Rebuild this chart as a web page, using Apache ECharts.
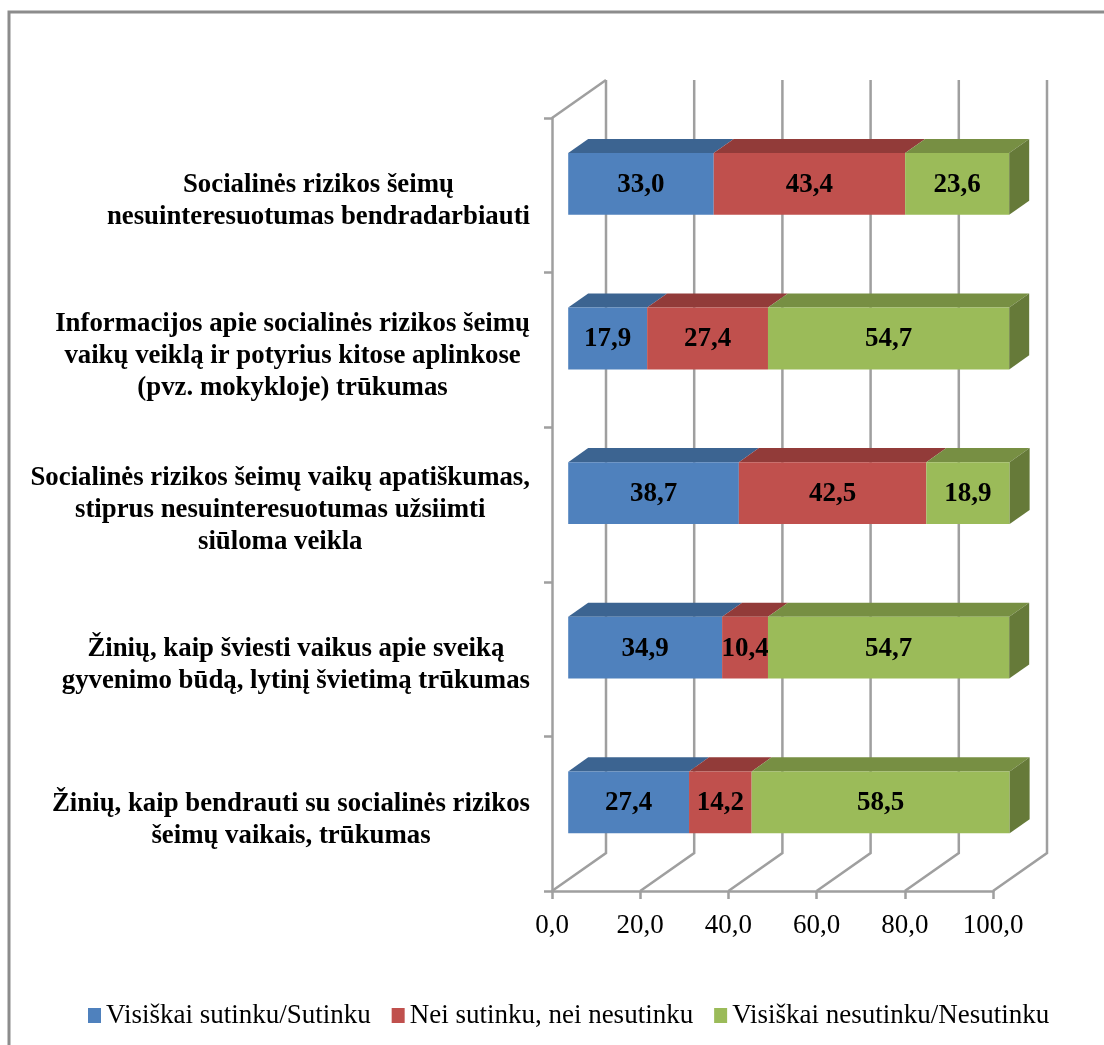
<!DOCTYPE html>
<html>
<head>
<meta charset="utf-8">
<script src="https://cdn.jsdelivr.net/npm/echarts@6/dist/echarts.min.js"></script>
<style>
  html, body { margin: 0; padding: 0; background: #fff; }
  #chart { width: 1104px; height: 1045px; }
</style>
</head>
<body>
<div id="chart"></div>
<script>
var categories = [
    ['Socialinės rizikos šeimų', 'nesuinteresuotumas bendradarbiauti'],
    ['Informacijos apie socialinės rizikos šeimų', 'vaikų veiklą ir potyrius kitose aplinkose', '(pvz. mokykloje) trūkumas'],
    ['Socialinės rizikos šeimų vaikų apatiškumas,', 'stiprus nesuinteresuotumas užsiimti', 'siūloma veikla'],
    ['Žinių, kaip šviesti vaikus apie sveiką', 'gyvenimo būdą, lytinį švietimą trūkumas'],
    ['Žinių, kaip bendrauti su socialinės rizikos', 'šeimų vaikais, trūkumas']
];
var agree = [33.0, 17.9, 38.7, 34.9, 27.4];
var neutral = [43.4, 27.4, 42.5, 10.4, 14.2];
var disagree = [23.6, 54.7, 18.9, 54.7, 58.5];
var xTicks = [0, 20, 40, 60, 80, 100];
var seriesNames = ['Visiškai sutinku/Sutinku', 'Nei sutinku, nei nesutinku', 'Visiškai nesutinku/Nesutinku'];

var FONT = '"Liberation Serif", "Times New Roman", serif';
var GREY = '#9f9f9f';
// oblique projection of the fake 3D box, in pixels
var DEPTH_X = 54, DEPTH_Y = -38;
var BAR_NEAR = 0.3, BAR_FAR = 0.67;

function comma(v) {
    return v.toFixed(1).replace('.', ',');
}

// back wall and floor lines
function renderWalls(params, api) {
    var t = api.value(0);
    var x = api.coord([t, 0])[0];
    var cs = params.coordSys;
    var top = cs.y, bottom = cs.y + cs.height;
    var lineStyle = { stroke: GREY, lineWidth: 2.5, fill: null };
    var children = [
        { type: 'polyline', shape: { points: [
            [x, bottom],
            [x + DEPTH_X, bottom + DEPTH_Y],
            [x + DEPTH_X, top + DEPTH_Y]
        ] }, style: lineStyle }
    ];
    if (t === 0) {
        children.push({ type: 'line', shape: { x1: x, y1: top, x2: x + DEPTH_X, y2: top + DEPTH_Y }, style: lineStyle });
    }
    return { type: 'group', children: children };
}

function barRenderer(color, topColor, sideColor) {
    return function (params, api) {
        var cat = api.value(0);
        var start = api.value(1);
        var val = api.value(2);
        var p0 = api.coord([start, cat]);
        var p1 = api.coord([start + val, cat]);
        var h = api.size([0, 1])[1] * 0.4;
        var nx = DEPTH_X * BAR_NEAR, ny = DEPTH_Y * BAR_NEAR;
        var dx = DEPTH_X * (BAR_FAR - BAR_NEAR), dy = DEPTH_Y * (BAR_FAR - BAR_NEAR);
        var x0 = p0[0] + nx, x1 = p1[0] + nx;
        var y0 = p0[1] + ny - h / 2, y1 = y0 + h;
        var children = [
            { type: 'polygon', shape: { points: [[x0, y0], [x1, y0], [x1 + dx, y0 + dy], [x0 + dx, y0 + dy]] }, style: { fill: topColor } },
            { type: 'rect', shape: { x: x0, y: y0, width: x1 - x0, height: h }, style: { fill: color } }
        ];
        if (sideColor) {
            children.push({ type: 'polygon', shape: { points: [[x1, y0], [x1 + dx, y0 + dy], [x1 + dx, y1 + dy], [x1, y1]] }, style: { fill: sideColor } });
        }
        children.push({
            type: 'text',
            z2: 10,
            style: {
                text: comma(val),
                x: (x0 + x1) / 2,
                y: (y0 + y1) / 2 + 1,
                align: 'center',
                verticalAlign: 'middle',
                fill: '#000',
                font: 'bold 27px ' + FONT
            }
        });
        return { type: 'group', children: children };
    };
}

function stackRows(values, below) {
    return values.map(function (v, i) {
        return [i, below[i], v];
    });
}

var zeros = agree.map(function () { return 0; });
var afterAgree = agree.slice();
var afterNeutral = agree.map(function (v, i) { return v + neutral[i]; });

var myChart = echarts.init(document.getElementById('chart'));
var option = {
    animation: false,
    backgroundColor: '#fff',
    textStyle: { fontFamily: FONT },
    graphic: [{
        // only the top and left of the outer frame are inside the picture
        type: 'rect',
        silent: true,
        z: -10,
        shape: { x: 9, y: 12, width: 1200, height: 1100 },
        style: { fill: '#fff', stroke: '#8c8c8c', lineWidth: 3 }
    }],
    grid: { left: 552, right: 111, top: 118, bottom: 154, containLabel: false },
    legend: {
        left: 83,
        top: 997,
        data: seriesNames,
        itemWidth: 13,
        itemHeight: 15,
        itemGap: 21,
        icon: 'rect',
        textStyle: { fontFamily: FONT, fontSize: 27, color: '#000' }
    },
    xAxis: {
        type: 'value',
        min: 0,
        max: 100,
        interval: 20,
        splitLine: { show: false },
        axisLine: { show: true, lineStyle: { color: GREY, width: 2.5 } },
        axisTick: { show: true, length: 8, lineStyle: { color: GREY, width: 2.5 } },
        axisLabel: {
            color: '#000',
            fontFamily: FONT,
            fontSize: 27,
            margin: 21,
            customValues: xTicks,
            formatter: function (v) { return comma(v); }
        }
    },
    yAxis: {
        type: 'category',
        inverse: true,
        data: categories.map(function (c) { return c.join('\n'); }),
        axisLine: { show: true, lineStyle: { color: GREY, width: 2.5 } },
        axisTick: { show: true, length: 8, lineStyle: { color: GREY, width: 2.5 } },
        axisLabel: {
            interval: 0,
            margin: 22,
            align: 'right',
            padding: [12, 0, 0, 0],
            formatter: function (value) {
                return value.split('\n').map(function (line) {
                    return '{c|' + line + '}';
                }).join('\n');
            },
            rich: {
                c: {
                    align: 'center',
                    color: '#000',
                    fontFamily: FONT,
                    fontWeight: 'bold',
                    fontSize: 26.8,
                    lineHeight: 32
                }
            }
        }
    },
    series: [
        {
            type: 'custom',
            silent: true,
            z: 1,
            renderItem: renderWalls,
            encode: { x: 0 },
            data: xTicks.map(function (t) { return [t]; })
        },
        {
            name: seriesNames[0],
            type: 'custom',
            z: 2,
            itemStyle: { color: '#4F81BD' },
            renderItem: barRenderer('#4F81BD', '#3C6491'),
            encode: { x: [1, 2], y: 0 },
            data: stackRows(agree, zeros)
        },
        {
            name: seriesNames[1],
            type: 'custom',
            z: 3,
            itemStyle: { color: '#C0504D' },
            renderItem: barRenderer('#C0504D', '#923B39'),
            encode: { x: [1, 2], y: 0 },
            data: stackRows(neutral, afterAgree)
        },
        {
            name: seriesNames[2],
            type: 'custom',
            z: 4,
            itemStyle: { color: '#9BBB59' },
            renderItem: barRenderer('#9BBB59', '#778F43', '#667A39'),
            encode: { x: [1, 2], y: 0 },
            data: stackRows(disagree, afterNeutral)
        }
    ]
};
myChart.setOption(option);
</script>
</body>
</html>
